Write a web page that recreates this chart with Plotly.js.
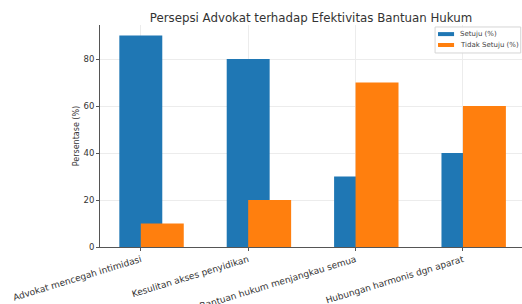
<!DOCTYPE html>
<html>
<head>
<meta charset="utf-8">
<script src="https://cdn.plot.ly/plotly-3.0.1.min.js"></script>
<style>html,body{margin:0;padding:0;background:#fff;}#chart{width:522px;height:304px;}</style>
</head>
<body>
<div id="chart"></div>
<script>
const categories = ["Advokat mencegah intimidasi", "Kesulitan akses penyidikan", "Bantuan hukum menjangkau semua", "Hubungan harmonis dgn aparat"];
const setuju = [90, 80, 30, 40];
const tidakSetuju = [10, 20, 70, 60];
const seriesNames = ["Setuju (%)", "Tidak Setuju (%)"];
const seriesColors = ['#1f77b4', '#ff7f0e'];

const pos = categories.map((c, i) => i);

const traces = [
  {type: 'bar', x: pos, y: setuju, name: seriesNames[0], width: 0.4, offset: -0.2,
   marker: {color: seriesColors[0], line: {width: 0}}, showlegend: false},
  {type: 'bar', x: pos, y: tidakSetuju, name: seriesNames[1], width: 0.4, offset: 0,
   marker: {color: seriesColors[1], line: {width: 0}}, showlegend: false}
];

// Compact matplotlib-style legend (paper coordinates)
const legendBox = {type: 'rect', xref: 'paper', yref: 'paper', x0: 0.794, x1: 0.997, y0: 0.874, y1: 0.991,
  line: {color: '#d5d5d5', width: 1}, fillcolor: 'rgba(255,255,255,0.9)', layer: 'above'};
const patchY = [[0.950, 0.968], [0.901, 0.919]];
const textY = [0.959, 0.910];
const shapes = [legendBox];
const annotations = [];
seriesNames.forEach((n, i) => {
  shapes.push({type: 'rect', xref: 'paper', yref: 'paper', x0: 0.801, x1: 0.839, y0: patchY[i][0], y1: patchY[i][1],
    line: {width: 0}, fillcolor: seriesColors[i], layer: 'above'});
  annotations.push({xref: 'paper', yref: 'paper', x: 0.848, y: textY[i], xanchor: 'left', yanchor: 'middle',
    text: n, showarrow: false, font: {size: 7, color: '#444', family: 'DejaVu Sans'}});
});

const layout = {
  width: 522, height: 304,
  margin: {l: 100, r: 0, t: 25, b: 57},
  paper_bgcolor: '#fff', plot_bgcolor: '#fff',
  barmode: 'overlay',
  showlegend: false,
  font: {family: 'DejaVu Sans', color: '#333', size: 8},
  title: {text: 'Persepsi Advokat terhadap Efektivitas Bantuan Hukum', x: 0.5, xref: 'paper', y: 0.955, yref: 'container',
          font: {size: 11.8, color: '#333', family: 'DejaVu Sans'}},
  xaxis: {
    range: [-0.38, 3.55], tickvals: pos, ticktext: categories, tickangle: -17,
    showgrid: true, gridcolor: '#ececec', gridwidth: 1,
    showline: true, linecolor: '#555', linewidth: 1,
    ticks: 'outside', ticklen: 3, tickcolor: '#555',
    tickfont: {size: 9, color: '#333'}, zeroline: false
  },
  yaxis: {
    range: [0, 94.5], tickvals: [0, 20, 40, 60, 80],
    showgrid: true, gridcolor: '#ececec', gridwidth: 1,
    showline: true, linecolor: '#555', linewidth: 1,
    ticks: 'outside', ticklen: 3, tickcolor: '#555',
    tickfont: {size: 8.5, color: '#333'}, zeroline: false,
    title: {text: 'Persentase (%)', font: {size: 8, color: '#333'}, standoff: 2}
  },
  shapes: shapes,
  annotations: annotations
};

Plotly.newPlot('chart', traces, layout, {displayModeBar: false, staticPlot: true});
</script>
</body>
</html>
